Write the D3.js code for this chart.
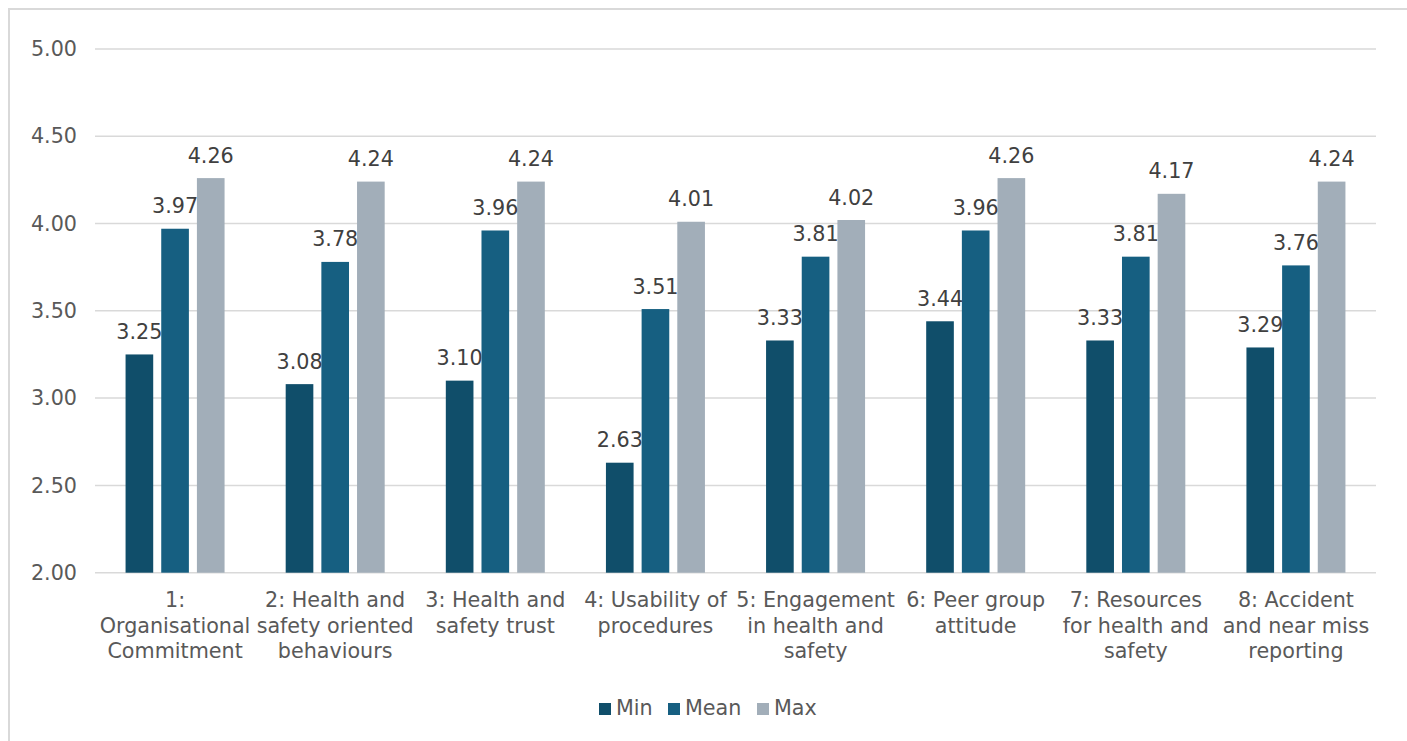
<!DOCTYPE html>
<html>
<head>
<meta charset="utf-8">
<script src="https://cdn.jsdelivr.net/npm/d3@7"></script>
<style>
  html, body { margin: 0; padding: 0; background: #fff; }
  svg { display: block; }
</style>
</head>
<body>
<svg id="chart" width="1407" height="741"></svg>
<script>
const categories = [
  ["1:", "Organisational", "Commitment"],
  ["2: Health and", "safety oriented", "behaviours"],
  ["3: Health and", "safety trust"],
  ["4: Usability of", "procedures"],
  ["5: Engagement", "in health and", "safety"],
  ["6: Peer group", "attitude"],
  ["7: Resources", "for health and", "safety"],
  ["8: Accident", "and near miss", "reporting"]
];
const seriesNames = ["Min", "Mean", "Max"];
const minValues  = [3.25, 3.08, 3.10, 2.63, 3.33, 3.44, 3.33, 3.29];
const meanValues = [3.97, 3.78, 3.96, 3.51, 3.81, 3.96, 3.81, 3.76];
const maxValues  = [4.26, 4.24, 4.24, 4.01, 4.02, 4.26, 4.17, 4.24];
const yTicks = [2.00, 2.50, 3.00, 3.50, 4.00, 4.50, 5.00];

const colors = ["#104E6A", "#165F81", "#A2AEB9"];
const seriesValues = [minValues, meanValues, maxValues];
const FONT = "Verdana, 'DejaVu Sans', sans-serif";
const FS = 20.7;

const svg = d3.select("#chart");

// frame
svg.append("path")
  .attr("d", "M9,745 L9,9 L1412,9")
  .attr("fill", "none").attr("stroke", "#d9d9d9").attr("stroke-width", 2);

const plotLeft = 95, plotRight = 1376, plotTop = 48.9, plotBottom = 572.7;

const x0 = d3.scaleBand().domain(d3.range(categories.length))
  .range([plotLeft, plotRight]).paddingInner(0).paddingOuter(0);
const groupWidth = 99;
const x1 = d3.scaleBand().domain(seriesNames)
  .range([0, groupWidth]).paddingInner(0.225).paddingOuter(0);
const y = d3.scaleLinear().domain([2, 5]).range([plotBottom, plotTop]);

// gridlines
svg.append("g").selectAll("line").data(yTicks).join("line")
  .attr("x1", plotLeft).attr("x2", plotRight)
  .attr("y1", d => y(d)).attr("y2", d => y(d))
  .attr("stroke", "#d9d9d9").attr("stroke-width", 1.5);

// y axis labels
const yAxis = d3.axisLeft(y).tickValues(yTicks).tickFormat(d3.format(".2f")).tickSize(0).tickPadding(18);
const yg = svg.append("g").attr("transform", `translate(${plotLeft},0)`).call(yAxis);
yg.select(".domain").remove();
yg.selectAll("text").attr("font-family", FONT).attr("font-size", FS).attr("fill", "#595959");

// bars
const groups = svg.append("g").selectAll("g").data(categories.map((c, i) => i)).join("g")
  .attr("transform", i => `translate(${x0(i) + (x0.bandwidth() - groupWidth) / 2},0)`);

groups.each(function(i) {
  const g = d3.select(this);
  const data = seriesNames.map((s, k) => ({ s, k, v: seriesValues[k][i] }));
  g.selectAll("rect").data(data).join("rect")
    .attr("x", d => x1(d.s))
    .attr("width", x1.bandwidth())
    .attr("y", d => y(d.v))
    .attr("height", d => y(2) - y(d.v))
    .attr("fill", d => colors[d.k]);
  g.selectAll("text").data(data).join("text")
    .attr("x", d => x1(d.s) + x1.bandwidth() / 2)
    .attr("y", d => y(d.v) - 15.5)
    .attr("text-anchor", "middle")
    .attr("font-family", FONT).attr("font-size", FS).attr("fill", "#404040")
    .text(d => d.v.toFixed(2));
});

// x axis labels
const xl = svg.append("g");
categories.forEach((lines, i) => {
  const t = xl.append("text")
    .attr("x", x0(i) + x0.bandwidth() / 2)
    .attr("y", 607)
    .attr("text-anchor", "middle")
    .attr("font-family", FONT).attr("font-size", FS).attr("fill", "#595959");
  lines.forEach((ln, j) => {
    t.append("tspan").attr("x", x0(i) + x0.bandwidth() / 2).attr("dy", j === 0 ? 0 : 25.5).text(ln);
  });
});

// legend
const legendX = [599, 668, 757];
const lg = svg.append("g");
seriesNames.forEach((s, k) => {
  lg.append("rect").attr("x", legendX[k]).attr("y", 703).attr("width", 12).attr("height", 12).attr("fill", colors[k]);
  lg.append("text").attr("x", legendX[k] + 17).attr("y", 715)
    .attr("font-family", FONT).attr("font-size", FS).attr("fill", "#595959").text(s);
});
</script>
</body>
</html>
